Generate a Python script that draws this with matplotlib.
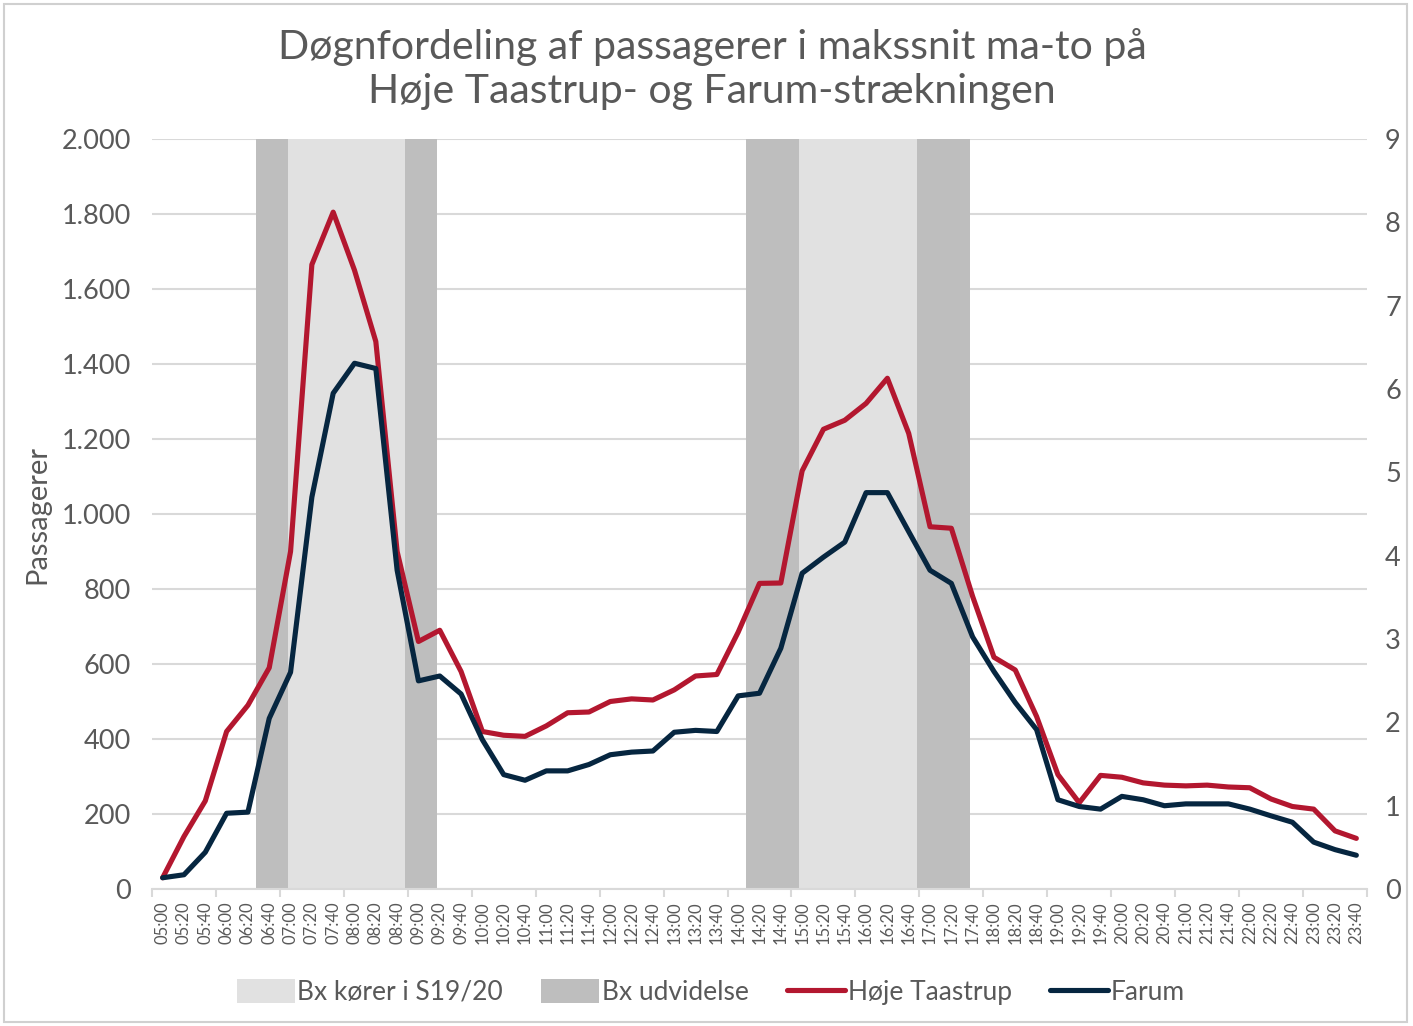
import matplotlib
matplotlib.use("Agg")
import matplotlib.pyplot as plt
from matplotlib.patches import Patch, Rectangle
from matplotlib.lines import Line2D

# ---- data ----
times = [f"{h:02d}:{m:02d}" for h in range(5, 24) for m in (0, 20, 40)]
hoeje_taastrup = [30, 140, 235, 420, 490, 590, 900, 1665, 1805, 1650, 1460, 900,
                  660, 690, 580, 420, 410, 407, 435, 470, 472, 500, 507, 504,
                  531, 568, 572, 685, 815, 816, 1115, 1226, 1250, 1295, 1362, 1215,
                  966, 962, 780, 618, 584, 460, 305, 230, 303, 298, 283, 277,
                  275, 277, 272, 270, 240, 220, 213, 155, 135]
farum = [30, 38, 98, 202, 205, 455, 578, 1045, 1322, 1402, 1388, 850,
         555, 568, 520, 398, 305, 290, 315, 315, 332, 358, 365, 368,
         418, 423, 420, 515, 522, 642, 842, 885, 925, 1057, 1057, 953,
         850, 815, 672, 580, 497, 425, 238, 220, 213, 247, 238, 222,
         227, 227, 227, 213, 195, 178, 125, 105, 90]
# Shaded periods (start, end) in "HH:MM"
bx_koerer = [("07:00", "08:50"), ("15:00", "16:50")]
bx_udvidelse = [("06:30", "07:00"), ("08:50", "09:20"), ("14:10", "15:00"), ("16:50", "17:40")]
left_ticks = list(range(0, 2001, 200))
right_ticks = list(range(0, 10))

# ---- style ----
FONT = "Lato"
TXT = "#595959"
RED = "#B3172F"
NAVY = "#062640"
LIGHT = "#E1E1E1"
DARK = "#BEBEBE"
GRID = "#D9D9D9"
plt.rcParams["font.family"] = [FONT, "DejaVu Sans"]

def to_idx(t):
    h, m = map(int, t.split(":"))
    return ((h - 5) * 60 + m) / 20.0 - 0.125

fig = plt.figure(figsize=(14.13, 10.26), dpi=100)
ax = fig.add_axes([152/1413, 1-889/1026, (1367-152)/1413, (889-139)/1026])
ax2 = ax.twinx()
ax.set_zorder(ax2.get_zorder() + 1)
ax.patch.set_visible(False)

# frame around the chart
fig.patches.append(Rectangle((4/1413, 4/1026), 1403/1413, 1018/1026, transform=fig.transFigure,
                             fill=False, edgecolor="#D0D0D0", linewidth=1.5))

x = list(range(len(times)))
for s, e in bx_koerer:
    ax.axvspan(to_idx(s), to_idx(e), ymin=0, ymax=1, color=LIGHT, lw=0, zorder=1)
for s, e in bx_udvidelse:
    ax.axvspan(to_idx(s), to_idx(e), ymin=0, ymax=1, color=DARK, lw=0, zorder=1)

ax.plot(x, hoeje_taastrup, color=RED, lw=3.7, solid_joinstyle="round", solid_capstyle="round", zorder=5)
ax.plot(x, farum, color=NAVY, lw=3.7, solid_joinstyle="round", solid_capstyle="round", zorder=6)

ax.set_xlim(-0.5, len(times) - 0.5)
ax.set_ylim(0, 2000)
ax2.set_ylim(0, 9)
ax.set_yticks(left_ticks)
ax.set_yticklabels([f"{v:,}".replace(",", ".") for v in left_ticks])
ax2.set_yticks(right_ticks)
ax2.set_yticklabels([str(v) for v in right_ticks])

ax.yaxis.grid(True, color=GRID, lw=1.5, zorder=0)
ax.set_axisbelow(True)
for sp in ["left", "right", "top"]:
    ax.spines[sp].set_visible(False)
    ax2.spines[sp].set_visible(False)
ax.spines["bottom"].set_color(GRID)
ax.spines["bottom"].set_linewidth(1.5)
ax.spines["bottom"].set_zorder(2)
ax2.spines["bottom"].set_visible(False)

ax.set_xticks(x)
ax.set_xticklabels(times, rotation=90, fontsize=12, color=TXT)
ax.tick_params(axis="x", which="major", length=0, pad=9)
ax.set_xticks([i - 0.5 for i in range(0, len(times) + 1, 3)], minor=True)
ax.tick_params(axis="x", which="minor", length=6, width=1.5, color=GRID)
ax.tick_params(axis="y", length=0, labelsize=19.5, labelcolor=TXT, pad=15)
ax2.tick_params(axis="y", length=0, labelsize=19.5, labelcolor=TXT, pad=13)

ax.set_ylabel("Passagerer", fontsize=21, color=TXT, labelpad=8)

fig.text(0.504, 1-47/1026, "Døgnfordeling af passagerer i makssnit ma-to på",
         ha="center", va="center", fontsize=29.5, color=TXT)
fig.text(0.504, 1-92/1026, "Høje Taastrup- og Farum-strækningen",
         ha="center", va="center", fontsize=29.5, color=TXT)

handles = [Patch(facecolor=LIGHT, edgecolor="none"), Patch(facecolor=DARK, edgecolor="none"),
           Line2D([], [], color=RED, lw=3.7, solid_capstyle="round"),
           Line2D([], [], color=NAVY, lw=3.7, solid_capstyle="round")]
labels = ["Bx kører i S19/20", "Bx udvidelse", "Høje Taastrup", "Farum"]
fig.legend(handles, labels, loc="center", bbox_to_anchor=(0.503, 1-992/1026), ncol=4,
           frameon=False, fontsize=19, labelcolor=TXT, handlelength=2.2, handleheight=1.0,
           handletextpad=0.1, columnspacing=1.45)

fig.savefig("out.png", dpi=100)
